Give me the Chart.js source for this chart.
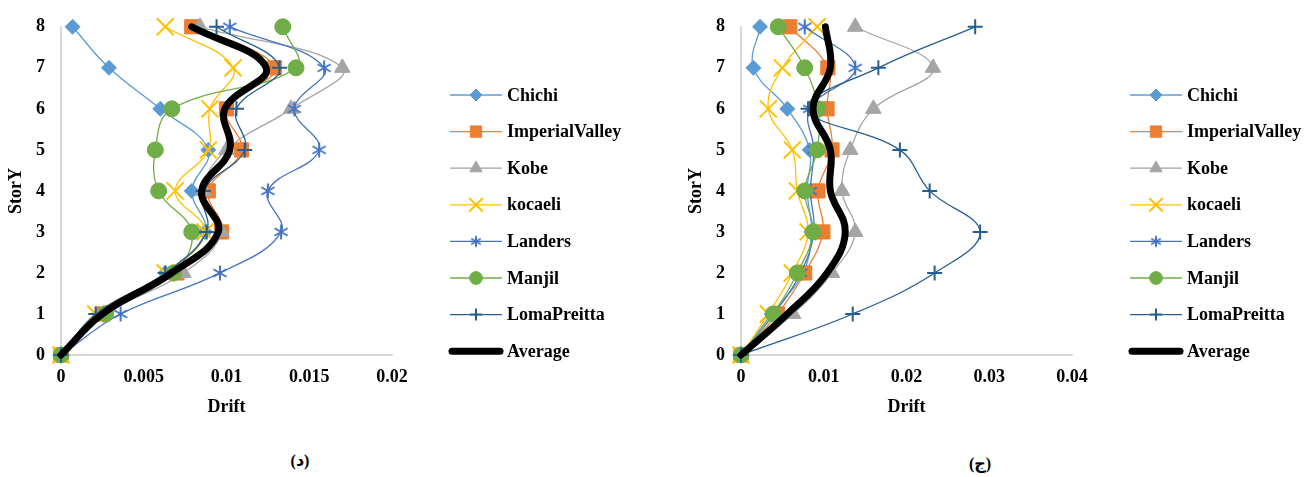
<!DOCTYPE html>
<html>
<head>
<meta charset="utf-8">
<script src="https://cdn.jsdelivr.net/npm/chart.js@4/dist/chart.umd.min.js"></script>
<style>
  body { margin: 0; background: #fff; }
  #wrap { position: relative; width: 1307px; height: 477px; overflow: hidden; }
  canvas { position: absolute; top: 0; }
  .cap { position: absolute; font: bold 16px "Liberation Serif", "DejaVu Sans", serif; transform: translateX(-50%); }
</style>
</head>
<body>
<div id="wrap">
  <canvas id="chartD" width="640" height="430" style="left:0px"></canvas>
  <canvas id="chartJ" width="640" height="430" style="left:680px"></canvas>
  <div class="cap" style="left:300px; top:451px">(د)</div>
  <div class="cap" style="left:980px; top:454px">(ج)</div>
</div>
<script>
const stories = [0, 1, 2, 3, 4, 5, 6, 7, 8];
const seriesNames = ['Chichi', 'ImperialValley', 'Kobe', 'kocaeli', 'Landers', 'Manjil', 'LomaPreitta', 'Average'];

// chart (د) drift per story, story 0 .. 8
const dChichi      = [0, 0.0023, 0.0063, 0.0087, 0.0079, 0.0089, 0.0060, 0.0029, 0.0007];
const dImperial    = [0, 0.0025, 0.0070, 0.0097, 0.0089, 0.0109, 0.0100, 0.0129, 0.0079];
const dKobe        = [0, 0.0027, 0.0074, 0.0097, 0.0086, 0.0100, 0.0139, 0.0170, 0.0084];
const dKocaeli     = [0, 0.0021, 0.0063, 0.0087, 0.0069, 0.0089, 0.0090, 0.0104, 0.0063];
const dLanders     = [0, 0.0036, 0.0096, 0.0133, 0.0125, 0.0156, 0.0141, 0.0159, 0.0102];
const dManjil      = [0, 0.0027, 0.0068, 0.0079, 0.0059, 0.0057, 0.0067, 0.0142, 0.0134];
const dLoma        = [0, 0.0021, 0.0063, 0.0088, 0.0086, 0.0111, 0.0106, 0.0132, 0.0094];
const dAverage     = [0, 0.0025, 0.0067, 0.0095, 0.0085, 0.0102, 0.0099, 0.0124, 0.0079];

// chart (ج)
const jChichi      = [0, 0.0037, 0.0075, 0.0085, 0.0080, 0.0083, 0.0056, 0.0015, 0.0023];
const jImperial    = [0, 0.0044, 0.0077, 0.0099, 0.0093, 0.0110, 0.0104, 0.0105, 0.0059];
const jKobe        = [0, 0.0063, 0.0110, 0.0138, 0.0122, 0.0132, 0.0160, 0.0232, 0.0138];
const jKocaeli     = [0, 0.0033, 0.0062, 0.0081, 0.0068, 0.0062, 0.0033, 0.0050, 0.0092];
const jLanders     = [0, 0.0040, 0.0072, 0.0088, 0.0084, 0.0088, 0.0083, 0.0138, 0.0077];
const jManjil      = [0, 0.0039, 0.0068, 0.0087, 0.0077, 0.0092, 0.0093, 0.0077, 0.0045];
const jLoma        = [0, 0.0135, 0.0234, 0.0289, 0.0228, 0.0192, 0.0081, 0.0166, 0.0283];
const jAverage     = [0, 0.0056, 0.0104, 0.0126, 0.0108, 0.0108, 0.0087, 0.0108, 0.0102];

const xTicksD = [0, 0.005, 0.01, 0.015, 0.02];
const xTicksJ = [0, 0.01, 0.02, 0.03, 0.04];

const colors = ['#5B9BD5', '#ED7D31', '#A5A5A5', '#FFC000', '#4472C4', '#70AD47', '#255E91', '#000000'];
const FONT = '"Liberation Serif", "Times New Roman", serif';

// excel style asterisk: an X with a vertical bar
function asterisk(size, color) {
  const c = document.createElement('canvas');
  c.width = size; c.height = size;
  const g = c.getContext('2d');
  const m = size / 2, r = size / 2 - 1.5;
  g.strokeStyle = color;
  g.lineWidth = 2;
  g.beginPath();
  g.moveTo(m, m - r); g.lineTo(m, m + r);
  g.moveTo(m - r * 0.87, m - r * 0.5); g.lineTo(m + r * 0.87, m + r * 0.5);
  g.moveTo(m - r * 0.87, m + r * 0.5); g.lineTo(m + r * 0.87, m - r * 0.5);
  g.stroke();
  return c;
}
const starBig = asterisk(18, colors[4]);
const starSmall = asterisk(14, colors[4]);

const markers = ['rectRot', 'rect', 'triangle', 'crossRot', starBig, 'circle', 'cross', false];
const markerSize = [7.5, 10, 9, 12, 9, 8, 7.5, 0];

function makeSets(cols) {
  return cols.map((vals, i) => {
    const avg = i === 7;
    return {
      label: seriesNames[i],
      data: vals.map((v, k) => ({ x: v, y: stories[k] })),
      showLine: true,
      tension: 0.4,
      borderColor: colors[i],
      backgroundColor: colors[i],
      borderWidth: avg ? 7 : 1.3,
      borderCapStyle: 'round',
      pointStyle: markers[i],
      pointRadius: markerSize[i],
      pointBorderWidth: (i === 3 || i === 6) ? 2 : 1,
      pointHoverRadius: markerSize[i],
      clip: false,
      order: avg ? 0 : 7 - i
    };
  });
}

const sideLegend = {
  id: 'sideLegend',
  afterDraw(chart) {
    const ctx = chart.ctx;
    ctx.save();
    chart.data.datasets.forEach((ds, i) => {
      const y = 95 + i * 36.6;
      ctx.beginPath();
      ctx.strokeStyle = ds.borderColor;
      if (i === 7) {
        ctx.lineWidth = 7;
        ctx.lineCap = 'round';
        ctx.moveTo(452, y); ctx.lineTo(500, y);
      } else {
        ctx.lineWidth = 1.3;
        ctx.lineCap = 'butt';
        ctx.moveTo(450, y); ctx.lineTo(502, y);
      }
      ctx.stroke();
      if (ds.pointStyle === starBig) {
        ctx.drawImage(starSmall, 476 - 7, y - 7);
      } else if (ds.pointStyle && Chart.helpers && Chart.helpers.drawPoint) {
        ctx.fillStyle = ds.backgroundColor;
        ctx.lineWidth = ds.pointBorderWidth;
        Chart.helpers.drawPoint(ctx, {
          pointStyle: ds.pointStyle, rotation: 0,
          radius: ds.pointRadius * 0.8, borderWidth: ds.pointBorderWidth
        }, 476, y);
      }
      ctx.fillStyle = '#000';
      ctx.font = 'bold 18px ' + FONT;
      ctx.textBaseline = 'middle';
      ctx.textAlign = 'left';
      ctx.fillText(ds.label, 507, y + 1);
    });
    ctx.restore();
  }
};

function drawChart(id, cols, xTicks) {
  new Chart(document.getElementById(id), {
    type: 'scatter',
    data: { datasets: makeSets(cols) },
    plugins: [sideLegend],
    options: {
      responsive: false,
      animation: false,
      layout: { padding: { top: 25, right: 248, left: 0, bottom: 0 } },
      plugins: { legend: { display: false }, tooltip: { enabled: false } },
      scales: {
        x: {
          type: 'linear',
          min: xTicks[0],
          max: xTicks[xTicks.length - 1],
          afterBuildTicks: s => { s.ticks = xTicks.map(v => ({ value: v })); },
          afterFit: s => { s.height = 75; },
          grid: { display: false, drawTicks: false },
          border: { display: true, color: '#D9D9D9', width: 2 },
          ticks: {
            padding: 12, color: '#000',
            font: { family: FONT, size: 18, weight: 'bold' },
            callback: v => String(v)
          },
          title: {
            display: true, text: 'Drift', color: '#000',
            font: { family: FONT, size: 18, weight: 'bold' },
            padding: { top: 0, bottom: 12 }
          }
        },
        y: {
          type: 'linear',
          min: 0, max: 8,
          afterBuildTicks: s => { s.ticks = stories.map(v => ({ value: v })); },
          afterFit: s => { s.width = 61; },
          grid: { display: false, drawTicks: false },
          border: { display: true, color: '#D9D9D9', width: 2 },
          ticks: {
            padding: 16, color: '#000',
            font: { family: FONT, size: 18, weight: 'bold' }
          },
          title: {
            display: true, text: 'StorY', color: '#000',
            font: { family: FONT, size: 18, weight: 'bold' },
            padding: { top: 6, bottom: 0 }
          }
        }
      }
    }
  });
}

drawChart('chartD', [dChichi, dImperial, dKobe, dKocaeli, dLanders, dManjil, dLoma, dAverage], xTicksD);
drawChart('chartJ', [jChichi, jImperial, jKobe, jKocaeli, jLanders, jManjil, jLoma, jAverage], xTicksJ);
</script>
</body>
</html>
